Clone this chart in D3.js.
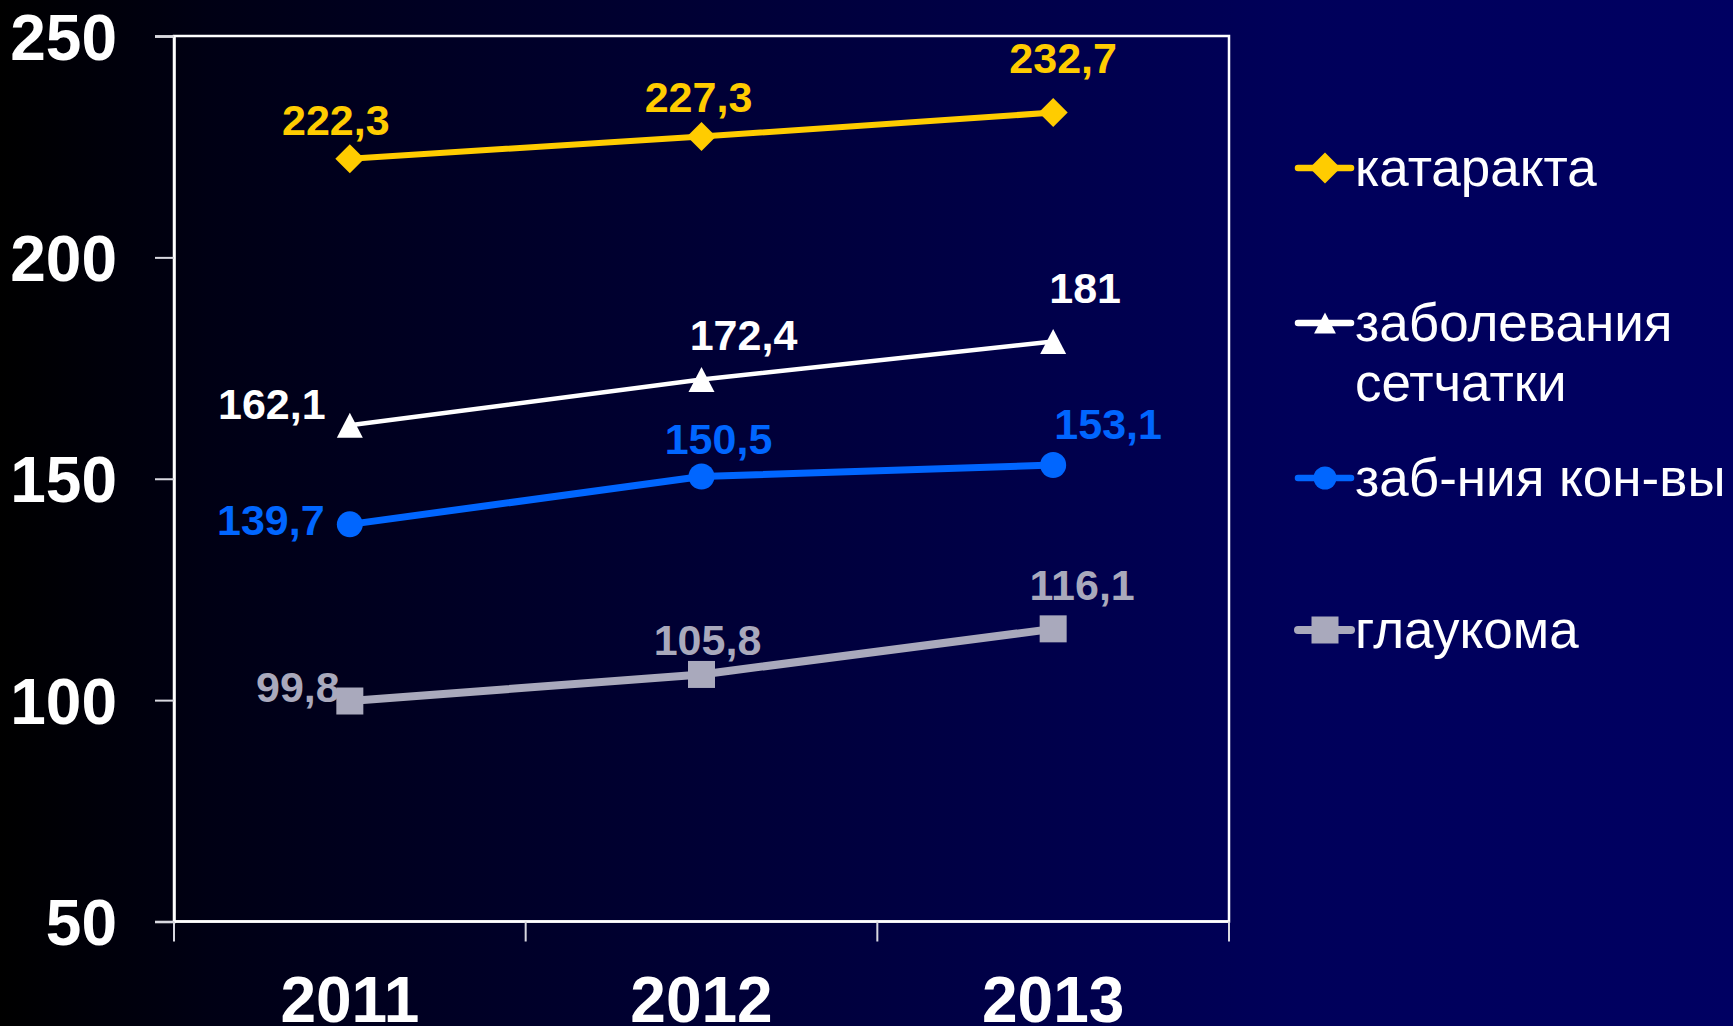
<!DOCTYPE html>
<html>
<head>
<meta charset="utf-8">
<script src="https://cdn.jsdelivr.net/npm/d3@7"></script>
<style>
  html, body { margin: 0; padding: 0; overflow: hidden; }
  body { width: 1733px; height: 1026px; }
  svg { display: block; }
</style>
</head>
<body>
<svg id="chart" width="1733" height="1026"></svg>
<script>
// Years on the category axis
const years = ["2011", "2012", "2013"];

// Value-axis ticks
const yTicks = [50, 100, 150, 200, 250];

// Series values per year
const cataract = [222.3, 227.3, 232.7];
const retina = [162.1, 172.4, 181];
const conjunctiva = [139.7, 150.5, 153.1];
const glaucoma = [99.8, 105.8, 116.1];

// Legend captions (one entry per line of text)
const seriesNames = [
  ["катаракта"],
  ["заболевания", "сетчатки"],
  ["заб-ния кон-вы"],
  ["глаукома"]
];

// Appearance of each series
const seriesStyle = [
  { color: "#FFCC00", width: 6, marker: "diamond" },
  { color: "#FFFFFF", width: 4.5, marker: "triangle" },
  { color: "#0066FF", width: 7, marker: "circle" },
  { color: "#A9A9BC", width: 8, marker: "square" }
];

// Hand-placed value-label offsets (label centre / baseline relative to the point)
const labelOffsets = [
  [[-14, -24], [-3, -25], [10, -40]],
  [[-78, -6], [42, -30], [32, -38]],
  [[-79, 11], [17, -23], [55, -26]],
  [[-52, 1], [6, -19], [29, -29]]
];

// Legend rows: vertical centre of each marker
const legendRowY = [168, 323, 478, 630];

const seriesValues = [cataract, retina, conjunctiva, glaucoma];

const W = 1733, H = 1026;
const plot = { left: 174, right: 1229, top: 36, bottom: 921.5 };
const fontFamily = "'Liberation Sans', Arial, Helvetica, sans-serif";

const svg = d3.select("#chart");

// Background: horizontal fade from black into navy
const defs = svg.append("defs");
const grad = defs.append("linearGradient")
  .attr("id", "bg").attr("x1", "0").attr("y1", "0").attr("x2", "1").attr("y2", "0");
grad.append("stop").attr("offset", "0").attr("stop-color", "#000000");
grad.append("stop").attr("offset", "0.12").attr("stop-color", "#000014");
grad.append("stop").attr("offset", "0.45").attr("stop-color", "#00003A");
grad.append("stop").attr("offset", "0.75").attr("stop-color", "#00005A");
grad.append("stop").attr("offset", "1").attr("stop-color", "#000062");
svg.append("rect").attr("width", W).attr("height", H).attr("fill", "url(#bg)");

const x = d3.scaleBand().domain(years).range([plot.left, plot.right]).padding(0);
const y = d3.scaleLinear().domain([50, 250]).range([plot.bottom, plot.top]);
const cx = d => x(d) + x.bandwidth() / 2;

// Plot-area frame
svg.append("rect")
  .attr("x", plot.left).attr("y", plot.top)
  .attr("width", plot.right - plot.left).attr("height", plot.bottom - plot.top)
  .attr("fill", "none").attr("stroke", "#FFFFFF").attr("stroke-width", 2.5);

// Value axis
const yAxis = svg.append("g")
  .attr("transform", `translate(${plot.left},0)`)
  .call(d3.axisLeft(y).tickValues(yTicks).tickSize(19).tickPadding(38).tickFormat(d3.format("d")));
yAxis.select(".domain").attr("stroke", "#FFFFFF").attr("stroke-width", 2.5);
yAxis.selectAll(".tick line").attr("stroke", "#D8D8E0").attr("stroke-width", 2);
yAxis.selectAll(".tick text")
  .attr("fill", "#FFFFFF")
  .attr("font-family", fontFamily).attr("font-weight", "bold").attr("font-size", 64)
  .attr("dy", "0.36em");

// Category axis: ticks sit on the band boundaries
const boundaries = years.map(d => x(d)).concat([plot.right]);
const xAxis = svg.append("g").attr("transform", `translate(0,${plot.bottom})`);
xAxis.append("line")
  .attr("x1", plot.left).attr("x2", plot.right)
  .attr("stroke", "#FFFFFF").attr("stroke-width", 2.5);
xAxis.selectAll("line.tk").data(boundaries).join("line")
  .attr("class", "tk")
  .attr("x1", d => d).attr("x2", d => d).attr("y1", 0).attr("y2", 20)
  .attr("stroke", "#D8D8E0").attr("stroke-width", 2);
xAxis.selectAll("text").data(years).join("text")
  .attr("x", d => cx(d)).attr("y", 100.5)
  .attr("text-anchor", "middle")
  .attr("fill", "#FFFFFF")
  .attr("font-family", fontFamily).attr("font-weight", "bold").attr("font-size", 64)
  .text(d => d);

// Marker shapes
function markerPath(type, s) {
  if (type === "diamond") return `M0,${-s}L${s},0L0,${s}L${-s},0Z`;
  if (type === "triangle") return `M0,${-s}L${s * 1.04},${s}L${-s * 1.04},${s}Z`;
  if (type === "square") return `M${-s},${-s}H${s}V${s}H${-s}Z`;
  return d3.arc()({ innerRadius: 0, outerRadius: s, startAngle: 0, endAngle: 2 * Math.PI });
}
const markerSize = { diamond: 14.5, triangle: 12.5, circle: 13, square: 13.5 };

const line = d3.line().x(d => cx(d.year)).y(d => y(d.value));

const seriesG = svg.append("g");
const pointsOf = vals => vals.map((v, i) => ({ year: years[i], value: v, i }));

// Lines
seriesValues.forEach((vals, s) => {
  const st = seriesStyle[s];
  seriesG.append("path")
    .datum(pointsOf(vals))
    .attr("d", line)
    .attr("fill", "none")
    .attr("stroke", st.color)
    .attr("stroke-width", st.width)
    .attr("stroke-linejoin", "round");
});

// Value labels
seriesValues.forEach((vals, s) => {
  const st = seriesStyle[s];
  seriesG.append("g").selectAll("text")
    .data(pointsOf(vals)).join("text")
    .attr("x", d => cx(d.year) + labelOffsets[s][d.i][0])
    .attr("y", d => y(d.value) + labelOffsets[s][d.i][1])
    .attr("text-anchor", "middle")
    .attr("fill", st.color)
    .attr("font-family", fontFamily).attr("font-weight", "bold").attr("font-size", 43)
    .text(d => d3.format(".1~f")(d.value).replace(".", ","));
});

// Markers
seriesValues.forEach((vals, s) => {
  const st = seriesStyle[s];
  seriesG.append("g").selectAll("path")
    .data(pointsOf(vals)).join("path")
    .attr("transform", d => `translate(${cx(d.year)},${y(d.value)})`)
    .attr("d", markerPath(st.marker, markerSize[st.marker]))
    .attr("fill", st.color);
});

// Legend
const legend = svg.append("g");
seriesNames.forEach((lines, s) => {
  const st = seriesStyle[s];
  const ly = legendRowY[s];
  const g = legend.append("g").attr("transform", `translate(0,${ly})`);
  g.append("line")
    .attr("x1", 1298).attr("x2", 1351)
    .attr("stroke", st.color)
    .attr("stroke-width", s === 3 ? 8 : 6.5)
    .attr("stroke-linecap", "round");
  const ms = st.marker === "triangle" ? 10.5 : st.marker === "circle" ? 11.5 : markerSize[st.marker] + (st.marker === "diamond" ? 1 : 0);
  g.append("path")
    .attr("transform", "translate(1325,0)")
    .attr("d", markerPath(st.marker, ms))
    .attr("fill", st.color);
  const t = g.append("text")
    .attr("x", 1355).attr("y", 18)
    .attr("fill", "#FFFFFF")
    .attr("font-family", fontFamily).attr("font-size", 53);
  lines.forEach((ln, k) => {
    t.append("tspan").attr("x", 1355).attr("dy", k === 0 ? 0 : 60).text(ln);
  });
});
</script>
</body>
</html>
